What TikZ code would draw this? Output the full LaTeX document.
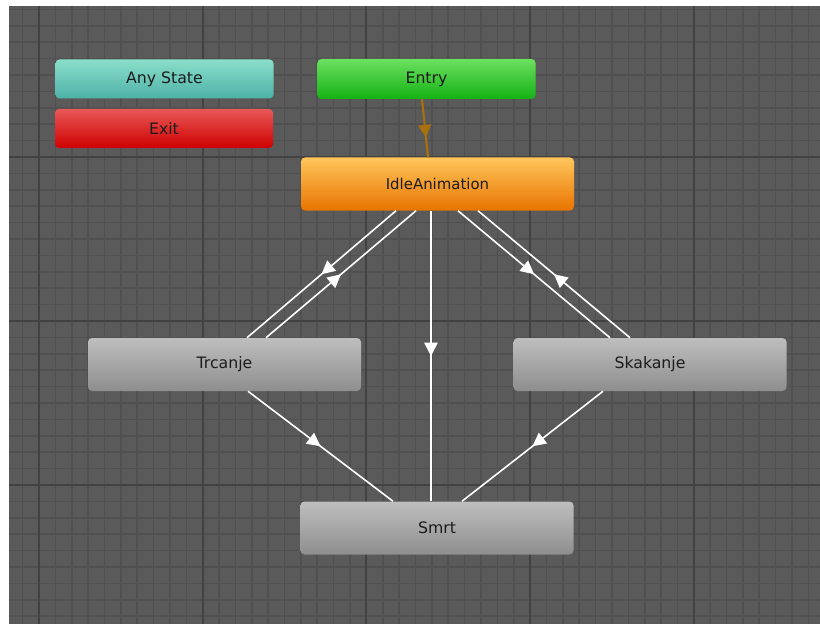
\documentclass[tikz,border=0pt]{standalone}
\usepackage{fontspec}
\setmainfont{DejaVu Sans}
\usetikzlibrary{arrows.meta,decorations.markings,calc}
\definecolor{bg}{HTML}{5A5A5A}
\definecolor{gminor}{HTML}{505050}
\definecolor{gmajor}{HTML}{424242}
\definecolor{txt}{HTML}{1C1C1C}
\definecolor{entryline}{HTML}{A8700E}
\tikzset{
  minorline/.style={gminor, line width=1.2pt},
  majorline/.style={gmajor, line width=1.6pt},
  state/.style={rounded corners=3pt, inner sep=0pt, text=txt,
    font=\fontsize{11.8}{14}\selectfont,
    minimum width=204.75pt, minimum height=39.75pt},
  small/.style={state, minimum width=163.5pt, minimum height=29.25pt},
  trans/.style={white, line width=1.2pt, postaction={decorate},
    decoration={markings, mark=at position 0.5 with {\arrow{Triangle[length=10pt,width=10pt]}}}},
  entrytrans/.style={entryline, line width=1.6pt, postaction={decorate},
    decoration={markings, mark=at position 0.66 with {\arrow{Triangle[length=9.5pt,width=9.5pt]}}}}
}
\begin{document}
\begin{tikzpicture}[x=0.75pt,y=-0.75pt]
\useasboundingbox (0,0) rectangle (820,624);
\fill[white] (0,0) rectangle (820,624);
\fill[bg] (9,6) rectangle (820,624);
\begin{scope}
  \clip (9,6) rectangle (820,624);
  \foreach \k in {-1,...,47} \draw[minorline] ({39+16.37*\k},6) -- ({39+16.37*\k},624);
  \foreach \k in {-9,...,28} \draw[minorline] (9,{157+16.4*\k}) -- (820,{157+16.4*\k});
  \foreach \k in {0,...,4} \draw[majorline] ({39+163.7*\k},6) -- ({39+163.7*\k},624);
  \foreach \k in {0,1,2} \draw[majorline] (9,{157+164*\k}) -- (820,{157+164*\k});
\end{scope}

\node[small, top color={rgb,255:red,138;green,222;blue,202}, bottom color={rgb,255:red,78;green,178;blue,168}] (any) at (164.5,79) {Any State};
\node[small, top color={rgb,255:red,232;green,88;blue,88}, bottom color={rgb,255:red,208;green,0;blue,0}] (exit) at (164,128.5) {Exit};
\node[small, minimum height=30pt, top color={rgb,255:red,108;green,224;blue,96}, bottom color={rgb,255:red,20;green,178;blue,20}] (entry) at (426.5,79) {Entry};
\node[state, top color={rgb,255:red,255;green,198;blue,92}, bottom color={rgb,255:red,232;green,116;blue,0}, font=\fontsize{11.2}{14}\selectfont] (idle) at (437.5,184) {IdleAnimation};
\node[state, top color={rgb,255:red,190;green,190;blue,190}, bottom color={rgb,255:red,142;green,142;blue,142}] (trc) at (224.5,364.5) {Trcanje};
\node[state, top color={rgb,255:red,190;green,190;blue,190}, bottom color={rgb,255:red,142;green,142;blue,142}] (skak) at (650,364.5) {Skakanje};
\node[state, top color={rgb,255:red,190;green,190;blue,190}, bottom color={rgb,255:red,142;green,142;blue,142}] (smrt) at (437,528) {Smrt};

\draw[entrytrans] ($(entry.south)+(-4.5,0)$) -- ($(idle.north)+(-9.5,0)$);

\draw[trans] ($(idle.south)+(-41.5,0)$) -- ($(trc.north)+(22.5,0)$);
\draw[trans] ($(trc.north)+(41.5,0)$) -- ($(idle.south)+(-21.5,0)$);
\draw[trans] ($(idle.south)+(20.5,0)$) -- ($(skak.north)+(-40,0)$);
\draw[trans] ($(skak.north)+(-20,0)$) -- ($(idle.south)+(40.5,0)$);
\draw[trans] ($(idle.south)+(-6.5,0)$) -- ($(smrt.north)+(-6,0)$);
\draw[trans] ($(trc.south)+(23.5,0)$) -- ($(smrt.north)+(-44,0)$);
\draw[trans] ($(skak.south)+(-47,0)$) -- ($(smrt.north)+(25,0)$);
\end{tikzpicture}
\end{document}
